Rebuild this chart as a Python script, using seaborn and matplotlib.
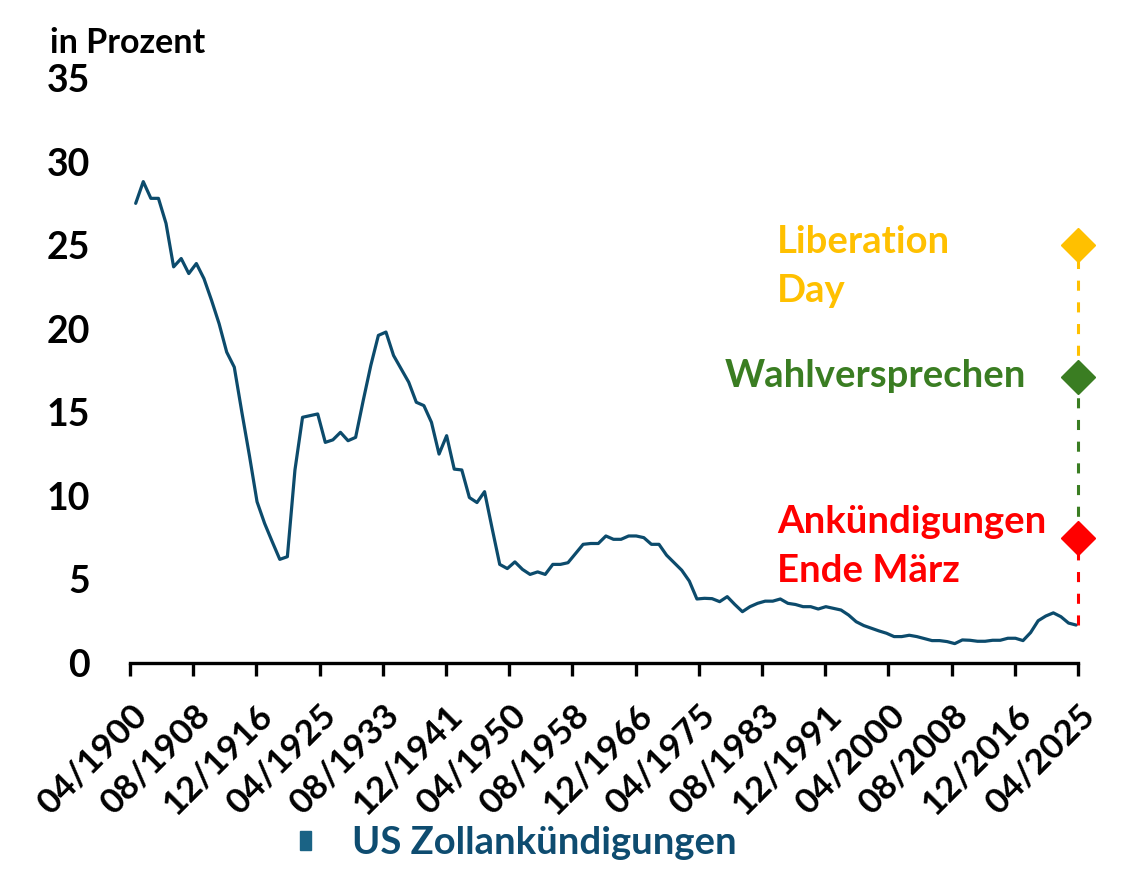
import numpy as np
import pandas as pd
import seaborn as sns
import matplotlib.pyplot as plt
from matplotlib.patches import Patch

sns.set_style('white')
plt.rcParams['font.family'] = ['Lato', 'DejaVu Sans']
plt.rcParams['font.weight'] = 'bold'
plt.rcParams['text.color'] = 'black'
plt.rcParams['xtick.color'] = 'black'
plt.rcParams['ytick.color'] = 'black'

# Durchschnittlicher US-Zollsatz, jaehrlich (in Prozent)
years = list(range(1901, 2026))
tariff = [27.5, 28.8, 27.8, 27.8, 26.3, 23.7, 24.2, 23.3, 23.9, 23.0,
          21.7, 20.3, 18.6, 17.7, 15.0, 12.4, 9.65, 8.35, 7.26, 6.2,
          6.36, 11.55, 14.7, 14.8, 14.9, 13.2, 13.35, 13.8, 13.3, 13.5,
          15.7, 17.8, 19.6, 19.8, 18.4, 17.6, 16.8, 15.6, 15.4, 14.4,
          12.5, 13.6, 11.6, 11.55, 9.9, 9.6, 10.25, 8.05, 5.9, 5.65,
          6.05, 5.6, 5.3, 5.45, 5.3, 5.9, 5.9, 6.0, 6.55, 7.1,
          7.15, 7.15, 7.6, 7.4, 7.4, 7.6, 7.6, 7.5, 7.1, 7.1,
          6.45, 6.0, 5.55, 4.9, 3.83, 3.87, 3.85, 3.67, 3.97, 3.5,
          3.07, 3.37, 3.57, 3.7, 3.7, 3.83, 3.57, 3.5, 3.37, 3.37,
          3.23, 3.37, 3.27, 3.17, 2.87, 2.47, 2.24, 2.08, 1.92, 1.78,
          1.58, 1.58, 1.66, 1.58, 1.46, 1.34, 1.34, 1.28, 1.16, 1.38,
          1.36, 1.3, 1.3, 1.36, 1.36, 1.48, 1.48, 1.34, 1.82, 2.53,
          2.81, 3.0, 2.77, 2.39, 2.27]

tick_labels = ['04/1900', '08/1908', '12/1916', '04/1925', '08/1933', '12/1941',
               '04/1950', '08/1958', '12/1966', '04/1975', '08/1983', '12/1991',
               '04/2000', '08/2008', '12/2016', '04/2025']

events = ['Ankündigungen\nEnde März', 'Wahlversprechen', 'Liberation\nDay']
event_values = [7.5, 17.1, 25.0]
event_colors = ['#FF0000', '#3A7D22', '#FFC000']

line_color = '#0C4B6C'
df = pd.DataFrame({'Jahr': years, 'Zoll': tariff})

fig = plt.figure(figsize=(11.42, 8.75), dpi=100)
ax = fig.add_axes([130 / 1142, 1 - 663 / 875, 948 / 1142, 585 / 875])

sns.lineplot(data=df, x='Jahr', y='Zoll', ax=ax, color=line_color, lw=2.3, legend=False)

# Ankuendigungen 2025 als gestrichelte Stufen mit Rauten
x_evt = 2025.25
ends = [tariff[-1]] + event_values
for i, col in enumerate(event_colors):
    ax.plot([x_evt, x_evt], [ends[i], ends[i + 1]], color=col, lw=2.2,
            ls=(0, (3.3, 3.8)), clip_on=False, zorder=4)
for v, col in zip(event_values, event_colors):
    ax.plot([x_evt], [v], marker='D', ms=17, color=col, clip_on=False, zorder=5)

text_pos = [(1985.56, 7.76), (1978.7, 16.5), (1985.56, 24.55)]
for label, (tx, ty), col in zip(events, text_pos, event_colors):
    for j, line in enumerate(label.split('\n')):
        ax.text(tx, ty - j * 2.93, line, color=col, fontsize=27.5, va='baseline', ha='left')

ax.set_xlim(1900.25, 2025.25)
ax.set_ylim(0, 35)
ax.set_xticks([1900.25 + i * 100 / 12 for i in range(len(tick_labels))])
ax.set_xticklabels(tick_labels, rotation=45, ha='right', va='top', rotation_mode='anchor')
ax.set_yticks(range(0, 36, 5))
ax.tick_params(axis='x', length=9.5, width=2.4, direction='out', color='black',
               labelsize=25.5, pad=16, bottom=True)
ax.tick_params(axis='y', length=0, pad=29, labelsize=27)
ax.set_xlabel('')
ax.set_ylabel('')
for s in ['left', 'top', 'right']:
    ax.spines[s].set_visible(False)
ax.spines['bottom'].set_linewidth(2.4)
ax.spines['bottom'].set_color('black')

fig.text(50 / 1142, 1 - 53 / 875, 'in Prozent', fontsize=24.5, va='baseline', ha='left')

handle = Patch(color='#1A6385')
fig.legend([handle], ['US Zollankündigungen'], loc='center left',
           bbox_to_anchor=(300 / 1142, 1 - 843 / 875), frameon=False, fontsize=27.5,
           labelcolor='#0E4C70', handlelength=0.29, handleheight=0.39,
           handletextpad=1.07, borderpad=0, borderaxespad=0)

fig.savefig('out.png', dpi=100)
